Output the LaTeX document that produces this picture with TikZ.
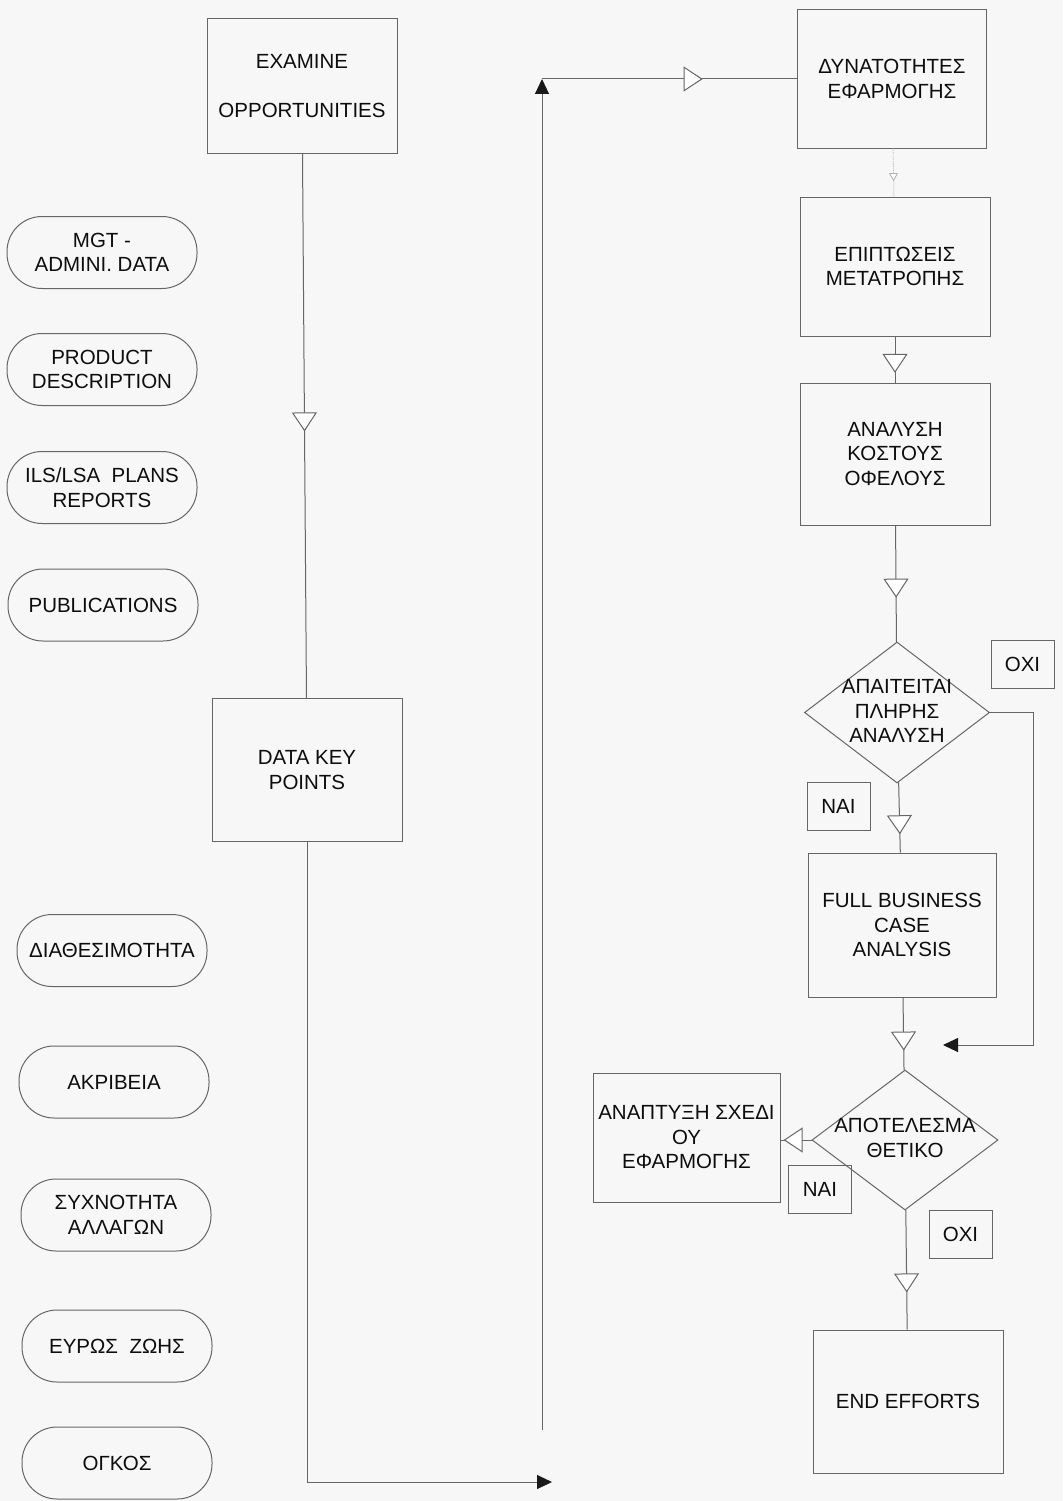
\documentclass[tikz,border=0pt]{standalone}
\usepackage{fontspec}
\setmainfont{Liberation Sans}
\usetikzlibrary{arrows.meta,shapes.geometric,decorations.markings}

\begin{document}
\begin{tikzpicture}[x=1pt,y=-1pt,
  every node/.style={font=\fontsize{20.5}{24.5}\selectfont, text=black!95},
  ln/.style={draw=black!60, line width=1pt},
  box/.style={ln, rectangle, align=center, inner sep=1pt},
  pill/.style={ln, rectangle, rounded corners=35pt, minimum width=190pt,
               minimum height=72pt, align=center, inner sep=1pt},
  tag/.style={ln, rectangle, minimum width=63pt, minimum height=48pt, inner sep=1pt},
  decision/.style={ln, diamond, inner sep=0pt},
  opentip/.style={postaction={decorate}, decoration={markings,
      mark=at position #1 with {\arrow{Triangle[width=25pt,length=19pt,fill=white]}}}},
  smalltip/.style={postaction={decorate}, decoration={markings,
      mark=at position #1 with {\arrow{Triangle[width=9pt,length=8pt,fill=white]}}}},
  filledtip/.style={-{Triangle[width=14pt,length=15pt,color=black!90]}}
]
% page
\fill[black!3] (0,0) rectangle (1063,1501);
\useasboundingbox (0,0) rectangle (1063,1501);

% ---------- left column ----------
\node[box, minimum width=190pt, minimum height=135pt] (exam) at (302,86)
  {EXAMINE\\[24pt]OPPORTUNITIES};
\node[box, minimum width=190pt, minimum height=143pt] (dkp) at (307,770)
  {DATA KEY\\POINTS};

\node[pill] (mgt)  at (102,252.5) {MGT -\\ADMINI. DATA};
\node[pill] (prod) at (102,369.5) {PRODUCT\\DESCRIPTION};
\node[pill] (ils)  at (102,487.5) {ILS/LSA\ \ PLANS\\REPORTS};
\node[pill] (pub)  at (103,605)   {PUBLICATIONS};

\node[pill] (diath) at (112,950.5) {ΔΙΑΘΕΣΙΜΟΤΗΤΑ};
\node[pill] (akr)   at (114,1082)  {ΑΚΡΙΒΕΙΑ};
\node[pill] (sychn) at (116,1215)  {ΣΥΧΝΟΤΗΤΑ\\ΑΛΛΑΓΩΝ};
\node[pill] (evros) at (117,1346)  {ΕΥΡΩΣ\ \ ΖΩΗΣ};
\node[pill] (ogkos) at (117,1463)  {ΟΓΚΟΣ};

% ---------- right column ----------
\node[box, minimum width=189pt, minimum height=138pt] (dyn) at (892,79)
  {ΔΥΝΑΤΟΤΗΤΕΣ\\ΕΦΑΡΜΟΓΗΣ};
\node[box, minimum width=190pt, minimum height=139pt] (epi) at (895,266.5)
  {ΕΠΙΠΤΩΣΕΙΣ\\ΜΕΤΑΤΡΟΠΗΣ};
\node[box, minimum width=190pt, minimum height=142pt] (ana) at (895,454)
  {ΑΝΑΛΥΣΗ\\ΚΟΣΤΟΥΣ\\ΟΦΕΛΟΥΣ};

\node[decision, minimum width=185pt, minimum height=141pt] (d1) at (897,712.5) {};
\node[align=center, inner sep=0pt] (d1t) at (897,711) {ΑΠΑΙΤΕΙΤΑΙ\\ΠΛΗΡΗΣ\\ΑΝΑΛΥΣΗ};

\node[box, minimum width=188pt, minimum height=144pt] (fbca) at (902,925)
  {FULL BUSINESS\\CASE\\ANALYSIS};

\node[decision, minimum width=186pt, minimum height=140pt] (d2) at (905,1140) {};
\node[align=center, inner sep=0pt] (d2t) at (905,1138) {ΑΠΟΤΕΛΕΣΜΑ\\ΘΕΤΙΚΟ};

\node[box, minimum width=187pt, minimum height=129pt] (anap) at (686.5,1137.5)
  {ΑΝΑΠΤΥΞΗ ΣΧΕΔΙ\\ΟΥ\\ΕΦΑΡΜΟΓΗΣ};

\node[box, minimum width=190pt, minimum height=143pt] (endb) at (908,1401.5)
  {END EFFORTS};

% yes / no tags
\node[tag] (no1)  at (1022.5,664)  {ΟΧΙ};
\node[tag] (yes1) at (838.5,806.5) {ΝΑΙ};
\node[tag] (yes2) at (820,1189)    {ΝΑΙ};
\node[tag] (no2)  at (960.5,1234.5) {ΟΧΙ};

% ---------- connectors ----------
\coordinate (c1) at (552,1482);
\coordinate (c2) at (542,1430);
\coordinate (c3) at (542,79);
\coordinate (rc) at (1033,1045);
\coordinate (jn) at (943,1045);

\draw[ln, opentip=0.51] (exam) -- (dkp);
\draw[ln, filledtip] (dkp.south) |- (c1);
\draw[ln, filledtip] (c2) -- (c3);
\draw[ln, opentip=0.63] (c3) -- (dyn.west |- c3);

\draw[draw=black!30, line width=0.8pt, densely dotted, smalltip=0.68] (dyn) -- (epi);
\draw[ln, opentip=0.79] (epi) -- (ana);
\draw[ln, opentip=0.62] (ana) -- (d1);
\draw[ln, opentip=0.74] (d1) -- (fbca);
\draw[ln, filledtip] (d1.east) -| (rc) -- (jn);
\draw[ln, opentip=0.73] (fbca) -- (d2);
\draw[ln, opentip=0.9] (d2.west) -- (d2.west -| anap.east);
\draw[ln, opentip=0.69] (d2) -- (endb);
\end{tikzpicture}
\end{document}
